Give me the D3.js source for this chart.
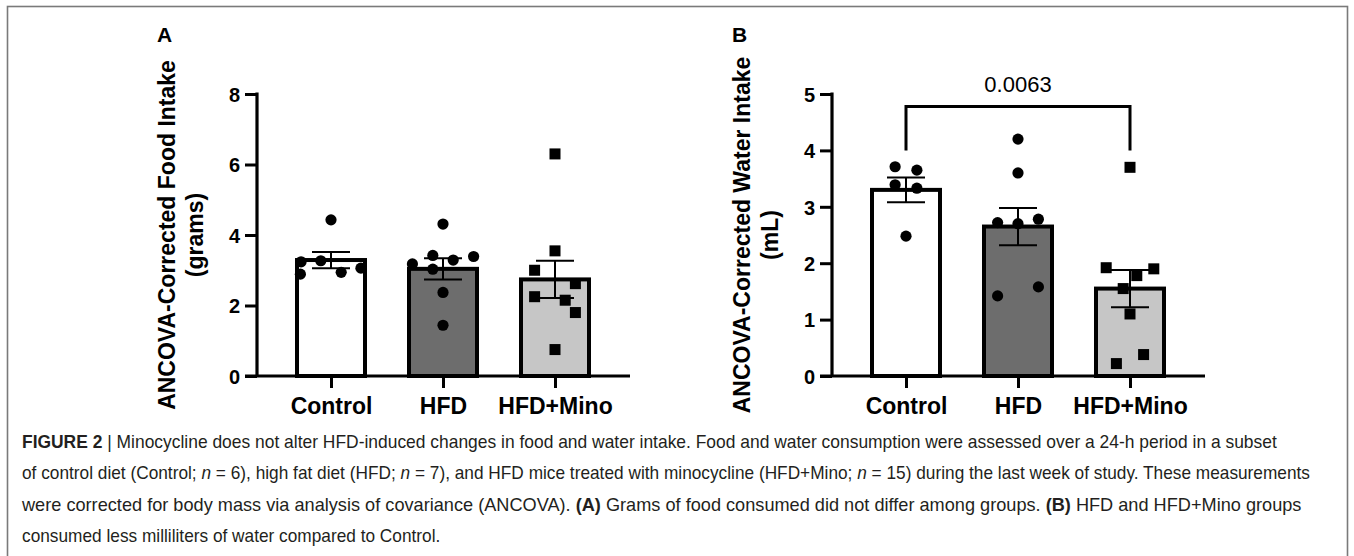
<!DOCTYPE html>
<html><head><meta charset="utf-8">
<script src="https://cdn.jsdelivr.net/npm/d3@7"></script>
<style>body{margin:0;background:#fff} svg{display:block}</style>
</head><body>
<svg id="fig" width="1354" height="556"></svg>
<script>
// ---------- data ----------
const categories = ["Control", "HFD", "HFD+Mino"];
const foodTicks = [0, 2, 4, 6, 8];
const waterTicks = [0, 1, 2, 3, 4, 5];

const foodMean = [3.29, 3.04, 2.74];
const foodSem = [0.23, 0.30, 0.53];
const foodControl = [4.43, 3.24, 3.27, 2.89, 2.94, 3.06];
const foodHFD = [4.31, 3.18, 3.42, 3.29, 3.39, 3.03, 2.37, 1.44];
const foodMino = [6.30, 3.55, 3.00, 2.62, 2.25, 2.15, 1.80, 0.75];
const jitFoodControl = [0, -0.44, -0.15, -0.45, 0.15, 0.44];
const jitFoodHFD = [0, -0.45, -0.15, 0.15, 0.45, -0.15, 0, 0];
const jitFoodMino = [0, 0, -0.3, 0.3, -0.3, 0.15, 0.3, 0];

const waterMean = [3.30, 2.65, 1.55];
const waterSem = [0.22, 0.33, 0.33];
const waterControl = [3.71, 3.65, 3.39, 3.33, 2.48];
const waterHFD = [4.20, 3.60, 2.72, 2.78, 2.70, 1.58, 1.42];
const waterMino = [3.70, 1.92, 1.90, 1.78, 1.55, 1.10, 0.38, 0.22];
const jitWaterControl = [-0.16, 0.16, -0.16, 0.16, 0];
const jitWaterHFD = [0, 0, -0.3, 0.3, 0, 0.3, -0.3];
const jitWaterMino = [0, -0.35, 0.35, 0.1, -0.1, 0, 0.2, -0.2];

const pValue = "0.0063";
const fills = ["#ffffff", "#6d6d6d", "#c6c6c6"];
const shapes = ["circle", "circle", "square"];

const captionLines = [
  [["FIGURE 2", "b"], [" | ", "n"], ["Minocycline does not alter HFD-induced changes in food and water intake. Food and water consumption were assessed over a 24-h period in a subset", "n"]],
  [["of control diet (Control; ", "n"], ["n", "i"], [" = 6), high fat diet (HFD; ", "n"], ["n", "i"], [" = 7), and HFD mice treated with minocycline (HFD+Mino; ", "n"], ["n", "i"], [" = 15) during the last week of study. These measurements", "n"]],
  [["were corrected for body mass via analysis of covariance (ANCOVA). ", "n"], ["(A)", "b"], [" Grams of food consumed did not differ among groups. ", "n"], ["(B)", "b"], [" HFD and HFD+Mino groups", "n"]],
  [["consumed less milliliters of water compared to Control.", "n"]]
];

// ---------- drawing ----------
const svg = d3.select("#fig");
const FONT = "'Liberation Sans', Arial, Helvetica, sans-serif";

svg.append("rect").attr("x", 7.5).attr("y", 6.5).attr("width", 1340).attr("height", 620)
  .attr("fill", "none").attr("stroke", "#7a7a7a").attr("stroke-width", 1.6);

const TOP = 94, BASE = 376;

function panel(o) {
  const g = svg.append("g");
  const y = d3.scaleLinear().domain([0, o.yMax]).range([BASE, TOP]);
  const x = d3.scalePoint().domain(categories).range([o.ax + 74, o.ax + 74 + 224]);
  const bw = 68;

  g.selectAll("rect.bar").data(categories).join("rect")
    .attr("x", d => x(d) - bw / 2).attr("width", bw)
    .attr("y", (d, i) => y(o.means[i])).attr("height", (d, i) => BASE - y(o.means[i]))
    .attr("fill", (d, i) => fills[i]).attr("stroke", "#000").attr("stroke-width", 4);

  categories.forEach((c, i) => {
    const pts = o.points[i].map((v, j) => ({ v, j: o.jit[i][j] }));
    if (shapes[i] === "circle") {
      g.selectAll(null).data(pts).join("circle")
        .attr("cx", d => x(c) + d.j * bw).attr("cy", d => y(d.v)).attr("r", 5.6).attr("fill", "#000");
    } else {
      g.selectAll(null).data(pts).join("rect")
        .attr("x", d => x(c) + d.j * bw - 5.5).attr("y", d => y(d.v) - 5.5)
        .attr("width", 11).attr("height", 11).attr("fill", "#000");
    }
  });

  categories.forEach((c, i) => {
    const hi = y(o.means[i] + o.sems[i]), lo = y(o.means[i] - o.sems[i]), cx = x(c);
    const eb = g.append("g").attr("stroke", "#000").attr("stroke-width", 2);
    eb.append("line").attr("x1", cx).attr("x2", cx).attr("y1", hi).attr("y2", lo);
    eb.append("line").attr("x1", cx - 19).attr("x2", cx + 19).attr("y1", hi).attr("y2", hi);
    eb.append("line").attr("x1", cx - 19).attr("x2", cx + 19).attr("y1", lo).attr("y2", lo);
  });

  const ya = g.append("g").attr("transform", `translate(${o.ax},0)`)
    .call(d3.axisLeft(y).tickValues(o.ticks).tickSize(12).tickSizeOuter(0).tickPadding(5).tickFormat(d3.format("d")));
  ya.select(".domain").remove();
  ya.selectAll(".tick line").attr("stroke", "#000").attr("stroke-width", 3);
  ya.selectAll(".tick text").attr("font-family", FONT).attr("font-weight", "bold")
    .attr("font-size", 20).attr("fill", "#000").attr("dy", "0.36em");
  g.append("line").attr("x1", o.ax).attr("x2", o.ax).attr("y1", TOP - 1.5).attr("y2", BASE)
    .attr("stroke", "#000").attr("stroke-width", 3.2);

  const xa = g.append("g").attr("transform", `translate(0,${BASE})`)
    .call(d3.axisBottom(x).tickSize(12).tickSizeOuter(0).tickPadding(10));
  xa.select(".domain").remove();
  xa.selectAll(".tick line").attr("stroke", "#000").attr("stroke-width", 3);
  xa.selectAll(".tick text").attr("font-family", FONT).attr("font-weight", "bold")
    .attr("font-size", 23).attr("fill", "#000").attr("dy", "0.71em");
  g.append("line").attr("x1", o.ax - 12).attr("x2", o.ax + 373).attr("y1", BASE).attr("y2", BASE)
    .attr("stroke", "#000").attr("stroke-width", 3.2);

  const t = g.append("text").attr("font-family", FONT).attr("font-weight", "bold").attr("font-size", 23)
    .attr("text-anchor", "middle").attr("transform", `translate(${o.ax - 82},${(TOP + BASE) / 2}) rotate(-90)`);
  t.append("tspan").attr("x", 0).attr("y", 0).text(o.title[0]);
  t.append("tspan").attr("x", 0).attr("y", 28).text(o.title[1]);

  g.append("text").attr("x", o.ax - 100).attr("y", 42).attr("font-family", FONT)
    .attr("font-weight", "bold").attr("font-size", 21).text(o.letter);

  return { x, y, g };
}

panel({ ax: 257, yMax: 8, ticks: foodTicks, means: foodMean, sems: foodSem,
  points: [foodControl, foodHFD, foodMino], jit: [jitFoodControl, jitFoodHFD, jitFoodMino],
  title: ["ANCOVA-Corrected Food Intake", "(grams)"], letter: "A" });

const pb = panel({ ax: 832, yMax: 5, ticks: waterTicks, means: waterMean, sems: waterSem,
  points: [waterControl, waterHFD, waterMino], jit: [jitWaterControl, jitWaterHFD, jitWaterMino],
  title: ["ANCOVA-Corrected Water Intake", "(mL)"], letter: "B" });

const bx1 = pb.x("Control"), bx2 = pb.x("HFD+Mino");
const legY = pb.y(4.0), topY = pb.y(4.78);
pb.g.append("path").attr("d", `M${bx1},${legY}V${topY}H${bx2}V${legY}`)
  .attr("fill", "none").attr("stroke", "#000").attr("stroke-width", 3);
pb.g.append("text").attr("x", (bx1 + bx2) / 2).attr("y", topY - 14).attr("text-anchor", "middle")
  .attr("font-family", FONT).attr("font-size", 22).text(pValue);

// caption: each line scaled horizontally as a whole (no per-glyph adjustment)
const capTargets = [1256, 1289, 1280, null];
const capY = [448, 479, 511, 542];
let ratio = 1;
const capEls = captionLines.map((line, li) => {
  const t = svg.append("text").attr("x", 0).attr("y", 0)
    .attr("font-family", "'Liberation Sans Narrow', 'Liberation Sans', Arial, sans-serif")
    .attr("font-size", 17.5).attr("fill", "#231f20");
  line.forEach(([s, st]) => {
    const ts = t.append("tspan").text(s);
    if (st === "b") ts.attr("font-weight", "bold");
    if (st === "i") ts.attr("font-style", "italic");
  });
  return t;
});
capEls.forEach((t, li) => {
  const w = t.node().getComputedTextLength();
  let sx;
  if (capTargets[li]) { sx = capTargets[li] / w; if (li === 1) ratio = sx; }
  else sx = ratio;
  t.attr("transform", `translate(22,${capY[li]}) scale(${sx},1)`);
});
</script>
</body></html>
